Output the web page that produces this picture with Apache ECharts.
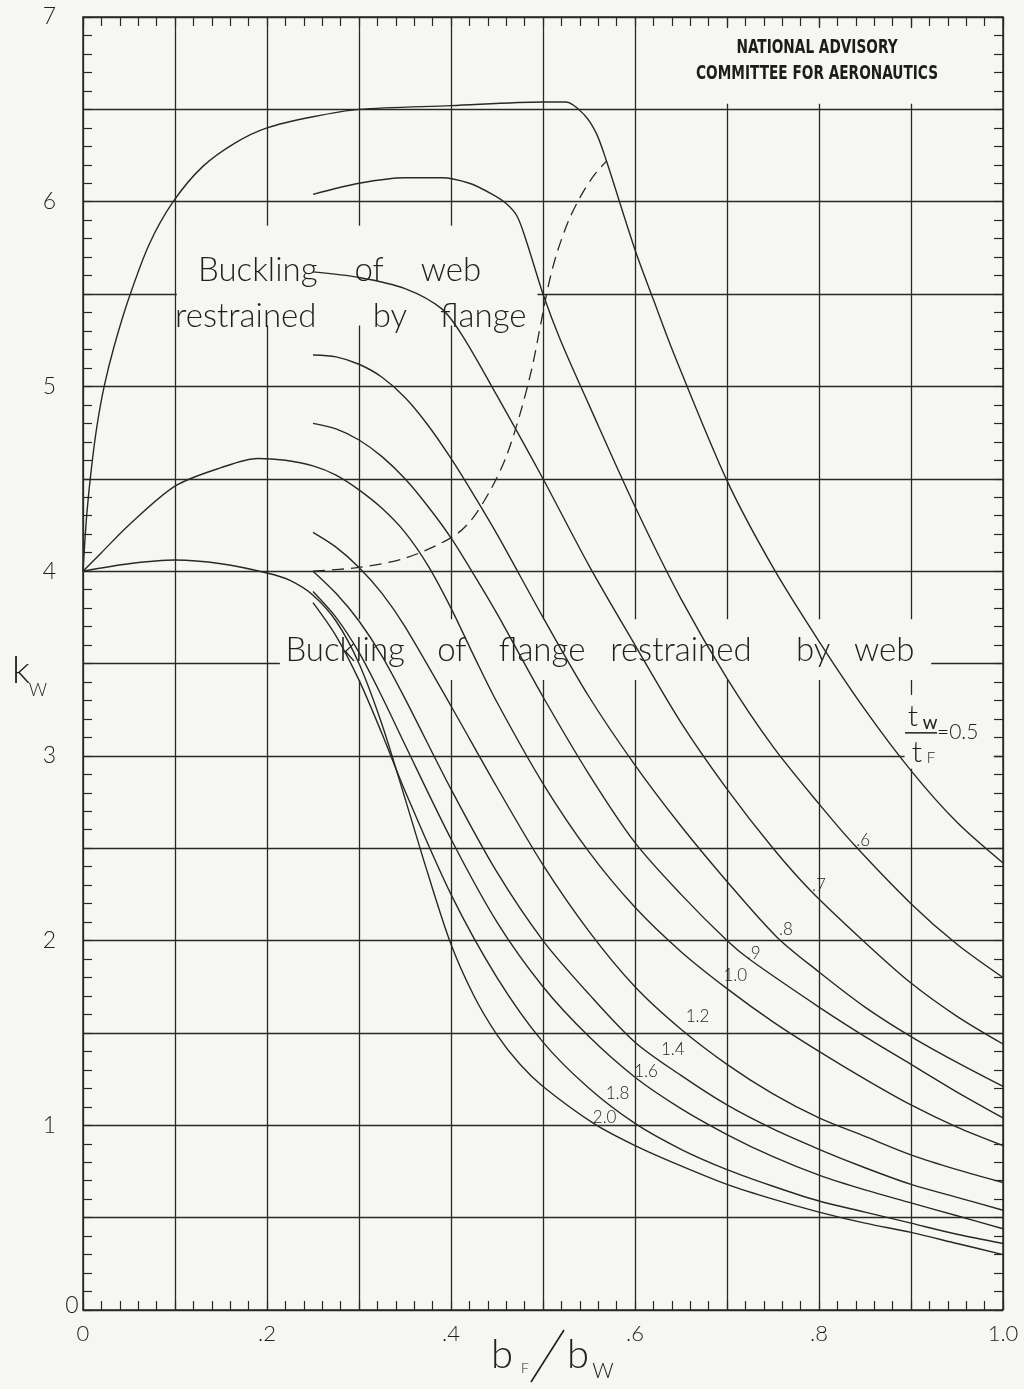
<!DOCTYPE html>
<html>
<head>
<meta charset="utf-8">
<script src="https://cdn.jsdelivr.net/npm/echarts@6/dist/echarts.min.js"></script>
<style>
  html, body { margin: 0; padding: 0; background: #f6f6f3; }
  #chart { width: 1024px; height: 1389px; }
</style>
</head>
<body>
<div id="chart"></div>
<script>
// Web buckling coefficient k_W against flange/web width ratio b_F/b_W,
// one curve per thickness ratio t_W/t_F.

const xTickLabels = { 0: '0', 0.2: '.2', 0.4: '.4', 0.6: '.6', 0.8: '.8', 1: '1.0' };
const yTickLabels = ['0', '1', '2', '3', '4', '5', '6', '7'];

const ratios = ['0.5', '0.6', '0.7', '0.8', '0.9', '1.0', '1.2', '1.4', '1.6', '1.8', '2.0'];

const kw05 = [[0, 4], [0.004, 4.3], [0.009, 4.55], [0.015, 4.78], [0.023, 5.0], [0.034, 5.22],
  [0.05, 5.48], [0.072, 5.77], [0.098, 6.0], [0.13, 6.19], [0.166, 6.32], [0.2, 6.4], [0.25, 6.46],
  [0.3, 6.5], [0.4, 6.52], [0.5, 6.54], [0.525, 6.54], [0.545, 6.47], [0.558, 6.37], [0.569, 6.22],
  [0.6, 5.74], [0.62, 5.47], [0.642, 5.18], [0.7, 4.49], [0.75, 4.02], [0.8, 3.62], [0.85, 3.25],
  [0.9, 2.92], [0.95, 2.64], [1.0, 2.42]];
const kw06 = [[0.25, 6.04], [0.3, 6.1], [0.35, 6.13], [0.39, 6.13], [0.42, 6.1], [0.445, 6.04],
  [0.46, 5.99], [0.472, 5.92], [0.483, 5.77], [0.5, 5.5], [0.519, 5.25], [0.55, 4.9], [0.6, 4.35],
  [0.65, 3.85], [0.7, 3.42], [0.75, 3.05], [0.8, 2.74], [0.838, 2.52], [0.9, 2.2], [0.95, 1.98], [1.0, 1.8]];
const kw07 = [[0.25, 5.62], [0.3, 5.59], [0.35, 5.53], [0.39, 5.42], [0.413, 5.27], [0.45, 4.95],
  [0.5, 4.5], [0.55, 4.03], [0.6, 3.6], [0.65, 3.18], [0.7, 2.82], [0.75, 2.5], [0.791, 2.27],
  [0.85, 1.99], [0.9, 1.77], [0.95, 1.59], [1.0, 1.44]];
const kw08 = [[0.25, 5.17], [0.275, 5.16], [0.3, 5.12], [0.325, 5.05], [0.35, 4.94], [0.375, 4.79],
  [0.4, 4.61], [0.425, 4.41], [0.45, 4.2], [0.5, 3.75], [0.55, 3.32], [0.6, 2.95], [0.65, 2.62],
  [0.7, 2.32], [0.754, 2.02], [0.8, 1.83], [0.85, 1.64], [0.9, 1.48], [0.95, 1.34], [1.0, 1.21]];
const kw09 = [[0.25, 4.8], [0.275, 4.77], [0.3, 4.71], [0.325, 4.62], [0.35, 4.5], [0.375, 4.35],
  [0.4, 4.18], [0.425, 3.98], [0.45, 3.77], [0.5, 3.32], [0.55, 2.9], [0.6, 2.53], [0.65, 2.25],
  [0.7, 2.0], [0.724, 1.9], [0.8, 1.64], [0.85, 1.48], [0.9, 1.33], [0.95, 1.18], [1.0, 1.04]];
const kw10 = [[0, 4], [0.02, 4.1], [0.05, 4.25], [0.1, 4.46], [0.15, 4.56], [0.19, 4.61], [0.22, 4.6],
  [0.25, 4.57], [0.275, 4.52], [0.3, 4.44], [0.325, 4.34], [0.35, 4.21], [0.375, 4.03], [0.4, 3.8],
  [0.425, 3.54], [0.45, 3.29], [0.5, 2.85], [0.55, 2.48], [0.6, 2.18], [0.65, 1.94], [0.7, 1.74],
  [0.75, 1.56], [0.8, 1.4], [0.85, 1.25], [0.9, 1.11], [0.95, 0.99], [1.0, 0.89]];
const kw12 = [[0.25, 4.21], [0.275, 4.13], [0.3, 4.02], [0.325, 3.88], [0.35, 3.7], [0.4, 3.27],
  [0.45, 2.83], [0.5, 2.41], [0.55, 2.05], [0.6, 1.75], [0.65, 1.52], [0.7, 1.33], [0.75, 1.17],
  [0.8, 1.04], [0.85, 0.94], [0.9, 0.84], [0.95, 0.76], [1.0, 0.69]];
const kw14 = [[0.25, 4.0], [0.275, 3.88], [0.3, 3.73], [0.325, 3.54], [0.35, 3.31], [0.4, 2.82],
  [0.45, 2.37], [0.5, 2.0], [0.55, 1.71], [0.6, 1.45], [0.65, 1.27], [0.7, 1.11], [0.75, 0.98],
  [0.8, 0.87], [0.85, 0.77], [0.9, 0.68], [0.95, 0.61], [1.0, 0.54]];
const kw16 = [[0.25, 3.89], [0.275, 3.75], [0.3, 3.56], [0.325, 3.32], [0.35, 3.06], [0.4, 2.55],
  [0.45, 2.1], [0.5, 1.75], [0.55, 1.48], [0.6, 1.26], [0.65, 1.09], [0.7, 0.95], [0.75, 0.83],
  [0.8, 0.73], [0.85, 0.65], [0.9, 0.58], [0.95, 0.51], [1.0, 0.44]];
const kw18 = [[0.25, 3.83], [0.275, 3.65], [0.3, 3.41], [0.325, 3.12], [0.35, 2.81], [0.4, 2.25],
  [0.45, 1.8], [0.5, 1.45], [0.55, 1.2], [0.6, 1.01], [0.65, 0.87], [0.7, 0.76], [0.75, 0.67],
  [0.8, 0.59], [0.85, 0.53], [0.9, 0.47], [0.95, 0.41], [1.0, 0.36]];
const kw20 = [[0, 4], [0.05, 4.04], [0.1, 4.06], [0.15, 4.04], [0.2, 3.99], [0.225, 3.95], [0.25, 3.87],
  [0.275, 3.73], [0.3, 3.5], [0.325, 3.17], [0.35, 2.77], [0.375, 2.36], [0.4, 1.98], [0.425, 1.7],
  [0.45, 1.49], [0.475, 1.33], [0.5, 1.21], [0.555, 1.01], [0.6, 0.89], [0.65, 0.78], [0.7, 0.68],
  [0.75, 0.6], [0.8, 0.53], [0.85, 0.47], [0.9, 0.42], [0.95, 0.36], [1.0, 0.3]];

// boundary between web buckling and flange buckling
const boundary = [[0.25, 4.0], [0.3, 4.02], [0.35, 4.07], [0.4, 4.18], [0.421, 4.27], [0.443, 4.44],
  [0.46, 4.62], [0.475, 4.85], [0.488, 5.1], [0.498, 5.35], [0.506, 5.55], [0.515, 5.72],
  [0.528, 5.9], [0.541, 6.03], [0.555, 6.14], [0.569, 6.22]];

const curves = [kw05, kw06, kw07, kw08, kw09, kw10, kw12, kw14, kw16, kw18, kw20];

// curve tags: [b_F/b_W, k_W, text]
const curveTags = [[0.848, 2.54, '.6'], [0.800, 2.30, '.7'], [0.764, 2.06, '.8'], [0.729, 1.93, '.9'],
  [0.709, 1.81, '1.0'], [0.668, 1.59, '1.2'], [0.641, 1.41, '1.4'], [0.612, 1.29, '1.6'],
  [0.581, 1.17, '1.8'], [0.567, 1.04, '2.0']];

const INK = '#282828';
const PAPER = '#f6f6f3';
const HAND = "Lato, 'Open Sans', 'DejaVu Sans', sans-serif";
const TEXT = '#1f1f1f';

const chart = echarts.init(document.getElementById('chart'), null, { renderer: 'canvas' });

// frame axes: border line, grid lines and labels
function frameAxis(position, max, interval, extra) {
  return Object.assign({
    type: 'value', min: 0, max: max, interval: interval, position: position,
    axisLine: { show: true, onZero: false, lineStyle: { color: INK, width: 1.5 } },
    axisTick: { show: false },
    axisLabel: { show: false },
    splitLine: { show: false },
    z: 0
  }, extra || {});
}
// fine tick axes: short inward ticks only
function tickAxis(position, max, interval) {
  return {
    type: 'value', min: 0, max: max, interval: interval, position: position,
    axisLine: { show: false, onZero: false },
    axisTick: { show: true, inside: true, length: 9, lineStyle: { color: INK, width: 1.2 } },
    axisLabel: { show: false },
    splitLine: { show: false },
    z: 0
  };
}

const series = curves.map((d, i) => ({
  name: ratios[i],
  type: 'line',
  data: d,
  smooth: 0.3,
  showSymbol: false,
  symbol: 'none',
  lineStyle: { color: INK, width: 1.4 },
  z: 3,
  silent: true
}));
series.push({
  name: 'boundary',
  type: 'line',
  data: boundary,
  smooth: 0.3,
  showSymbol: false,
  symbol: 'none',
  lineStyle: { color: INK, width: 1.3, type: [12, 7] },
  z: 3,
  silent: true
});

chart.setOption({
  backgroundColor: PAPER,
  animation: false,
  grid: { left: 83, right: 21, top: 17, bottom: 79 },
  xAxis: [
    frameAxis('bottom', 1, 0.1, {
      splitLine: { show: true, lineStyle: { color: INK, width: 1.3 } },
      axisLabel: {
        show: true, margin: 13, fontFamily: HAND, fontSize: 22, color: TEXT, fontWeight: 300,
        formatter: v => { const k = Math.round(v * 10) / 10; return xTickLabels[k] !== undefined ? xTickLabels[k] : ''; }
      }
    }),
    frameAxis('top', 1, 0.1),
    tickAxis('bottom', 1, 0.02),
    tickAxis('top', 1, 0.02)
  ],
  yAxis: [
    frameAxis('left', 7, 0.5, {
      splitLine: { show: true, lineStyle: { color: INK, width: 1.3 } },
      axisLabel: {
        show: true, margin: 27, fontFamily: HAND, fontSize: 23, color: TEXT, fontWeight: 300,
        formatter: v => (v > 0 && Number.isInteger(v)) ? yTickLabels[v] : ''
      }
    }),
    frameAxis('right', 7, 0.5),
    tickAxis('left', 7, 0.1),
    tickAxis('right', 7, 0.1)
  ],
  series: series
});

// annotations placed in data coordinates
const px = (x, y) => chart.convertToPixel({ gridIndex: 0 }, [x, y]);
const g = [];

function paperBox(x0, y0, x1, y1) {
  const a = px(x0, y0), b = px(x1, y1);
  g.push({ type: 'rect', z: 1, silent: true,
    shape: { x: Math.min(a[0], b[0]), y: Math.min(a[1], b[1]), width: Math.abs(b[0] - a[0]), height: Math.abs(b[1] - a[1]) },
    style: { fill: PAPER } });
}
function word(x, y, text, size, opts) {
  const p = px(x, y);
  g.push({ type: 'text', z: 2, silent: true, x: p[0], y: p[1],
    style: Object.assign({ text: text, fill: TEXT, font: '300 ' + size + 'px ' + HAND,
      align: 'left', verticalAlign: 'middle' }, opts || {}) });
}
function at(xp, yp, text, size, opts, props) {
  g.push(Object.assign({ type: 'text', z: 2, silent: true, x: xp, y: yp,
    style: Object.assign({ text: text, fill: TEXT, font: '300 ' + size + 'px ' + HAND,
      align: 'center', verticalAlign: 'middle' }, opts || {}) }, props || {}));
}

// web-buckling region caption
paperBox(0.102, 5.87, 0.494, 5.33);
const webY1 = 5.63, webY2 = 5.38;
word(0.125, webY1, 'Buckling', 33);
word(0.295, webY1, 'of', 33);
word(0.367, webY1, 'web', 33);
word(0.100, webY2, 'restrained', 33);
word(0.315, webY2, 'by', 33);
word(0.388, webY2, 'flange', 33);

// flange-buckling region caption
paperBox(0.214, 3.74, 0.922, 3.41);
const flY = 3.57;
word(0.220, flY, 'Buckling', 33);
word(0.385, flY, 'of', 33);
word(0.452, flY, 'flange', 33);
word(0.573, flY, 'restrained', 33);
word(0.775, flY, 'by', 33);
word(0.838, flY, 'web', 33);

// organisation mark
paperBox(0.64, 6.94, 0.99, 6.53);
const naca = px(0.8, 6.0);
const nacaFont = "bold 16px 'Liberation Sans Narrow', 'DejaVu Sans Condensed', sans-serif";
const nacaScale = { scaleX: 0.95, scaleY: 1.2 };
at(naca[0] - 2, 48, 'NATIONAL ADVISORY', 16, { font: nacaFont, fill: '#1c1c1c' }, nacaScale);
at(naca[0] - 2, 74, 'COMMITTEE FOR AERONAUTICS', 16, { font: nacaFont, fill: '#1c1c1c' }, nacaScale);

// thickness-ratio key for the top curve
paperBox(0.893, 3.33, 0.99, 2.93);
const kx = px(0.9, 3.0);
at(kx[0] + 2, kx[1] - 40, 't', 30);
at(kx[0] + 19, kx[1] - 31, 'W', 14, { font: '600 14px ' + HAND });
g.push({ type: 'line', z: 2, silent: true, shape: { x1: kx[0] - 6, y1: kx[1] - 23, x2: kx[0] + 26, y2: kx[1] - 23 },
  style: { stroke: TEXT, lineWidth: 1.5 } });
at(kx[0] + 26, kx[1] - 24, '=0.5', 21, { align: 'left' });
at(kx[0] + 6, kx[1] - 4, 't', 30);
at(kx[0] + 20, kx[1] + 2, 'F', 15);

// curve tags
curveTags.forEach(t => {
  const p = px(t[0], t[1]);
  at(p[0], p[1], t[2], 17);
});

// y = 0 tick label sits close to the corner
const o = px(0, 0);
at(o[0] - 11, o[1] - 4, '0', 23);

// axis titles
const yt = px(0, 3.5);
at(21, yt[1] + 7, 'k', 38);
at(38, yt[1] + 27, 'W', 18);
const xt = px(0.5, 0);
at(xt[0] - 41, o[1] + 45, 'b', 40);
at(xt[0] - 18, o[1] + 58, 'F', 14);
g.push({ type: 'line', z: 2, silent: true, shape: { x1: xt[0] - 12, y1: o[1] + 72, x2: xt[0] + 21, y2: o[1] + 20 },
  style: { stroke: TEXT, lineWidth: 1.6 } });
at(xt[0] + 35, o[1] + 45, 'b', 40);
at(xt[0] + 60, o[1] + 61, 'W', 21);

chart.setOption({ graphic: { elements: g } });
</script>
</body>
</html>
